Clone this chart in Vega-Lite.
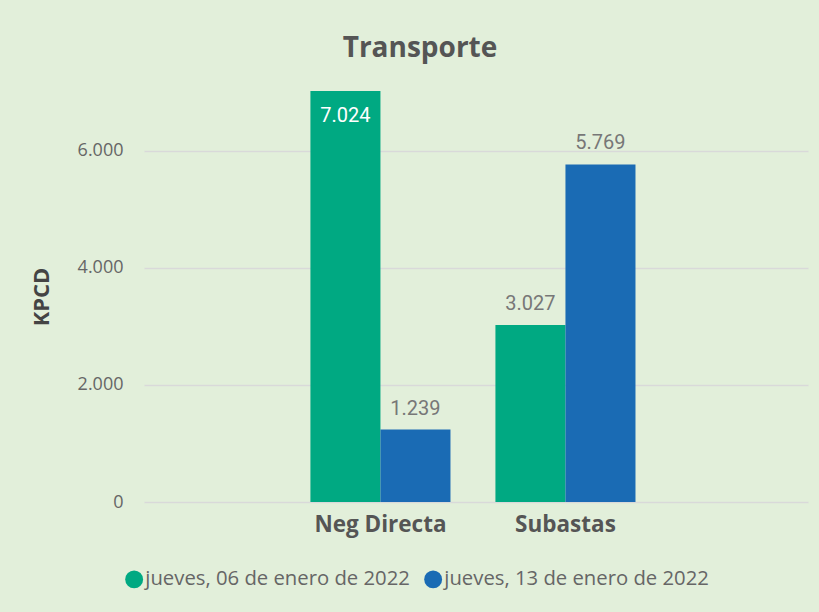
{
  "$schema": "https://vega.github.io/schema/vega-lite/v6.json",
  "width": 664,
  "height": 411,
  "autosize": {"type": "none"},
  "padding": {"left": 144, "top": 91, "right": 11, "bottom": 110},
  "background": "#e2efda",
  "config": {
    "view": {"stroke": null},
    "locale": {"number": {"decimal": ",", "thousands": ".", "grouping": [3], "currency": ["", " €"]}},
    "font": "Open Sans"
  },
  "title": {
    "text": "Transporte",
    "font": "Open Sans",
    "fontSize": 28,
    "fontWeight": "bold",
    "color": "#555555",
    "anchor": "middle",
    "dx": -56,
    "offset": 28
  },
  "data": {
    "values": [
      {"categoria": "Neg Directa", "fecha": "jueves, 06 de enero de 2022", "valor": 7024},
      {"categoria": "Neg Directa", "fecha": "jueves, 13 de enero de 2022", "valor": 1239},
      {"categoria": "Subastas", "fecha": "jueves, 06 de enero de 2022", "valor": 3027},
      {"categoria": "Subastas", "fecha": "jueves, 13 de enero de 2022", "valor": 5769}
    ]
  },
  "encoding": {
    "x": {
      "field": "categoria",
      "type": "nominal",
      "sort": null,
      "scale": {"paddingInner": 0.243, "paddingOuter": 0.916, "align": 0.491},
      "axis": {
        "title": null,
        "labelAngle": 0,
        "domain": false,
        "ticks": false,
        "labelFont": "Open Sans",
        "labelFontSize": 22.5,
        "labelFontWeight": "bold",
        "labelColor": "#555555",
        "labelPadding": 11
      }
    },
    "xOffset": {"field": "fecha", "type": "nominal", "sort": null, "scale": {"paddingInner": 0, "paddingOuter": 0}},
    "y": {
      "field": "valor",
      "type": "quantitative",
      "scale": {"domain": [0, 7024], "nice": false},
      "axis": {
        "title": "KPCD",
        "titleFont": "Open Sans",
        "titleFontSize": 22,
        "titleFontWeight": "bold",
        "titleColor": "#444444",
        "titlePadding": 24,
        "values": [0, 2000, 4000, 6000],
        "format": ",d",
        "domain": false,
        "ticks": false,
        "labelFont": "Open Sans",
        "labelFontSize": 18,
        "labelColor": "#666666",
        "labelPadding": 21,
        "gridColor": "#d9d9d9",
        "gridWidth": 1.5
      }
    }
  },
  "layer": [
    {
      "mark": {"type": "bar"},
      "encoding": {
        "color": {
          "field": "fecha",
          "type": "nominal",
          "sort": null,
          "scale": {"range": ["#00a982", "#1a6bb4"]},
          "legend": {
            "title": null,
            "orient": "none",
            "direction": "horizontal",
            "legendX": -20,
            "legendY": 478,
            "symbolType": "circle",
            "symbolSize": 320,
            "symbolStrokeWidth": 0,
            "symbolOpacity": 1,
            "labelFont": "Open Sans",
            "labelFontSize": 20.3,
            "labelColor": "#666666",
            "labelOffset": 1,
            "columnPadding": 13,
            "labelLimit": 400
          }
        }
      }
    },
    {
      "transform": [{"filter": "datum.valor < 6500"}],
      "mark": {"type": "text", "font": "Roboto", "fontSize": 20, "color": "#777777", "baseline": "bottom", "dy": -11},
      "encoding": {"text": {"field": "valor", "type": "quantitative", "format": ",d"}}
    },
    {
      "transform": [{"filter": "datum.valor >= 6500"}],
      "mark": {"type": "text", "font": "Roboto", "fontSize": 20, "color": "#ffffff", "baseline": "top", "dy": 15},
      "encoding": {"text": {"field": "valor", "type": "quantitative", "format": ",d"}}
    }
  ]
}
